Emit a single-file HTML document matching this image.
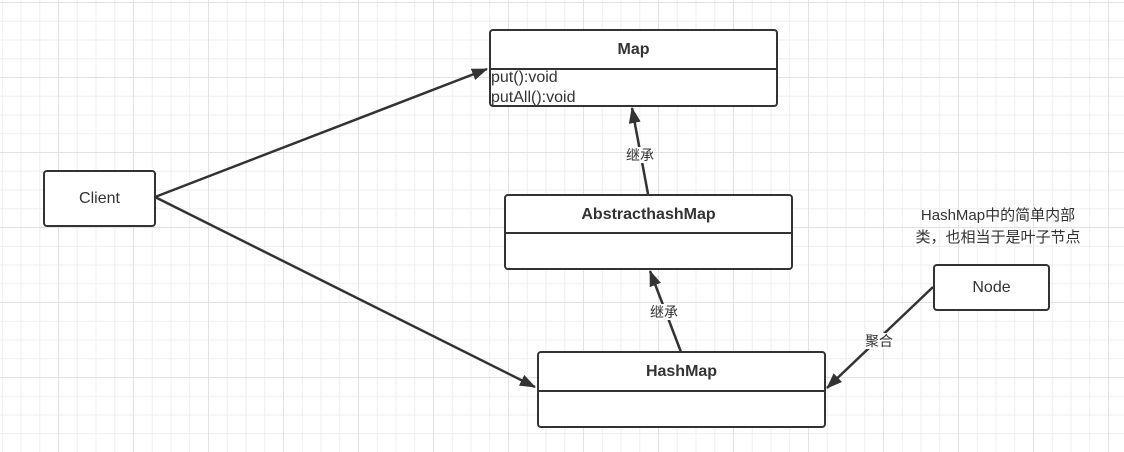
<!DOCTYPE html>
<html><head><meta charset="utf-8"><style>
html,body{margin:0;padding:0}
body{width:1124px;height:452px;position:relative;overflow:hidden;background-color:#fff;
background-image:linear-gradient(#e2e2e2 1px,transparent 1px),linear-gradient(90deg,#e2e2e2 1px,transparent 1px),linear-gradient(#efefef 1px,transparent 1px),linear-gradient(90deg,#efefef 1px,transparent 1px);
background-size:75px 75px,75px 75px,18.75px 18.75px,18.75px 18.75px;background-position:2px 2px,-17px 2px,2px 2px,1.75px 2px;
font-family:"Liberation Sans","Noto Sans CJK SC",sans-serif;color:#333}
.b{position:absolute;border:2px solid #333;border-radius:4px;background:#fff;box-sizing:border-box}
.h{font-weight:bold;font-size:16px;text-align:center;border-bottom:2px solid #333;box-sizing:border-box}
.t{position:absolute;font-size:14px;background:#fff;line-height:16px}
svg{position:absolute;left:0;top:0}
</style></head><body>
<svg width="1124" height="452">
<defs><marker id="a2" markerWidth="16" markerHeight="12" refX="15" refY="6" orient="auto" markerUnits="userSpaceOnUse"><path d="M0,0 L16,6 L0,12 z" fill="#333"/></marker></defs>
<g stroke="#333" stroke-width="2.5" fill="none">
<line x1="155" y1="197" x2="487" y2="69" marker-end="url(#a2)"/>
<line x1="155" y1="197" x2="535" y2="387" marker-end="url(#a2)"/>
<line x1="648" y1="194" x2="632" y2="108" marker-end="url(#a2)"/>
<line x1="681" y1="352" x2="650" y2="271" marker-end="url(#a2)"/>
<line x1="933" y1="287" x2="827" y2="388" marker-end="url(#a2)"/>
</g></svg>
<div class="b" style="left:43px;top:170px;width:113px;height:57px;font-size:16px;text-align:center;line-height:53px">Client</div>
<div class="b" style="left:489px;top:29px;width:289px;height:78px"><div class="h" style="height:39px;line-height:37px">Map</div><div style="font-size:16px;line-height:20px;padding-left:0;margin-top:-2px">put():void<br>putAll():void</div></div>
<div class="b" style="left:504px;top:194px;width:289px;height:76px"><div class="h" style="height:38px;line-height:38px">AbstracthashMap</div></div>
<div class="b" style="left:537px;top:351px;width:289px;height:77px"><div class="h" style="height:39px;line-height:38px">HashMap</div></div>
<div class="b" style="left:933px;top:264px;width:117px;height:47px;font-size:16px;text-align:center;line-height:43px">Node</div>
<div class="t" style="left:626px;top:147px">继承</div>
<div class="t" style="left:650px;top:304px">继承</div>
<div class="t" style="left:865px;top:333px">聚合</div>
<div style="position:absolute;left:890px;top:205px;width:216px;text-align:center;font-size:15px;line-height:22px">HashMap中的简单内部<br>类，也相当于是叶子节点</div>
</body></html>
